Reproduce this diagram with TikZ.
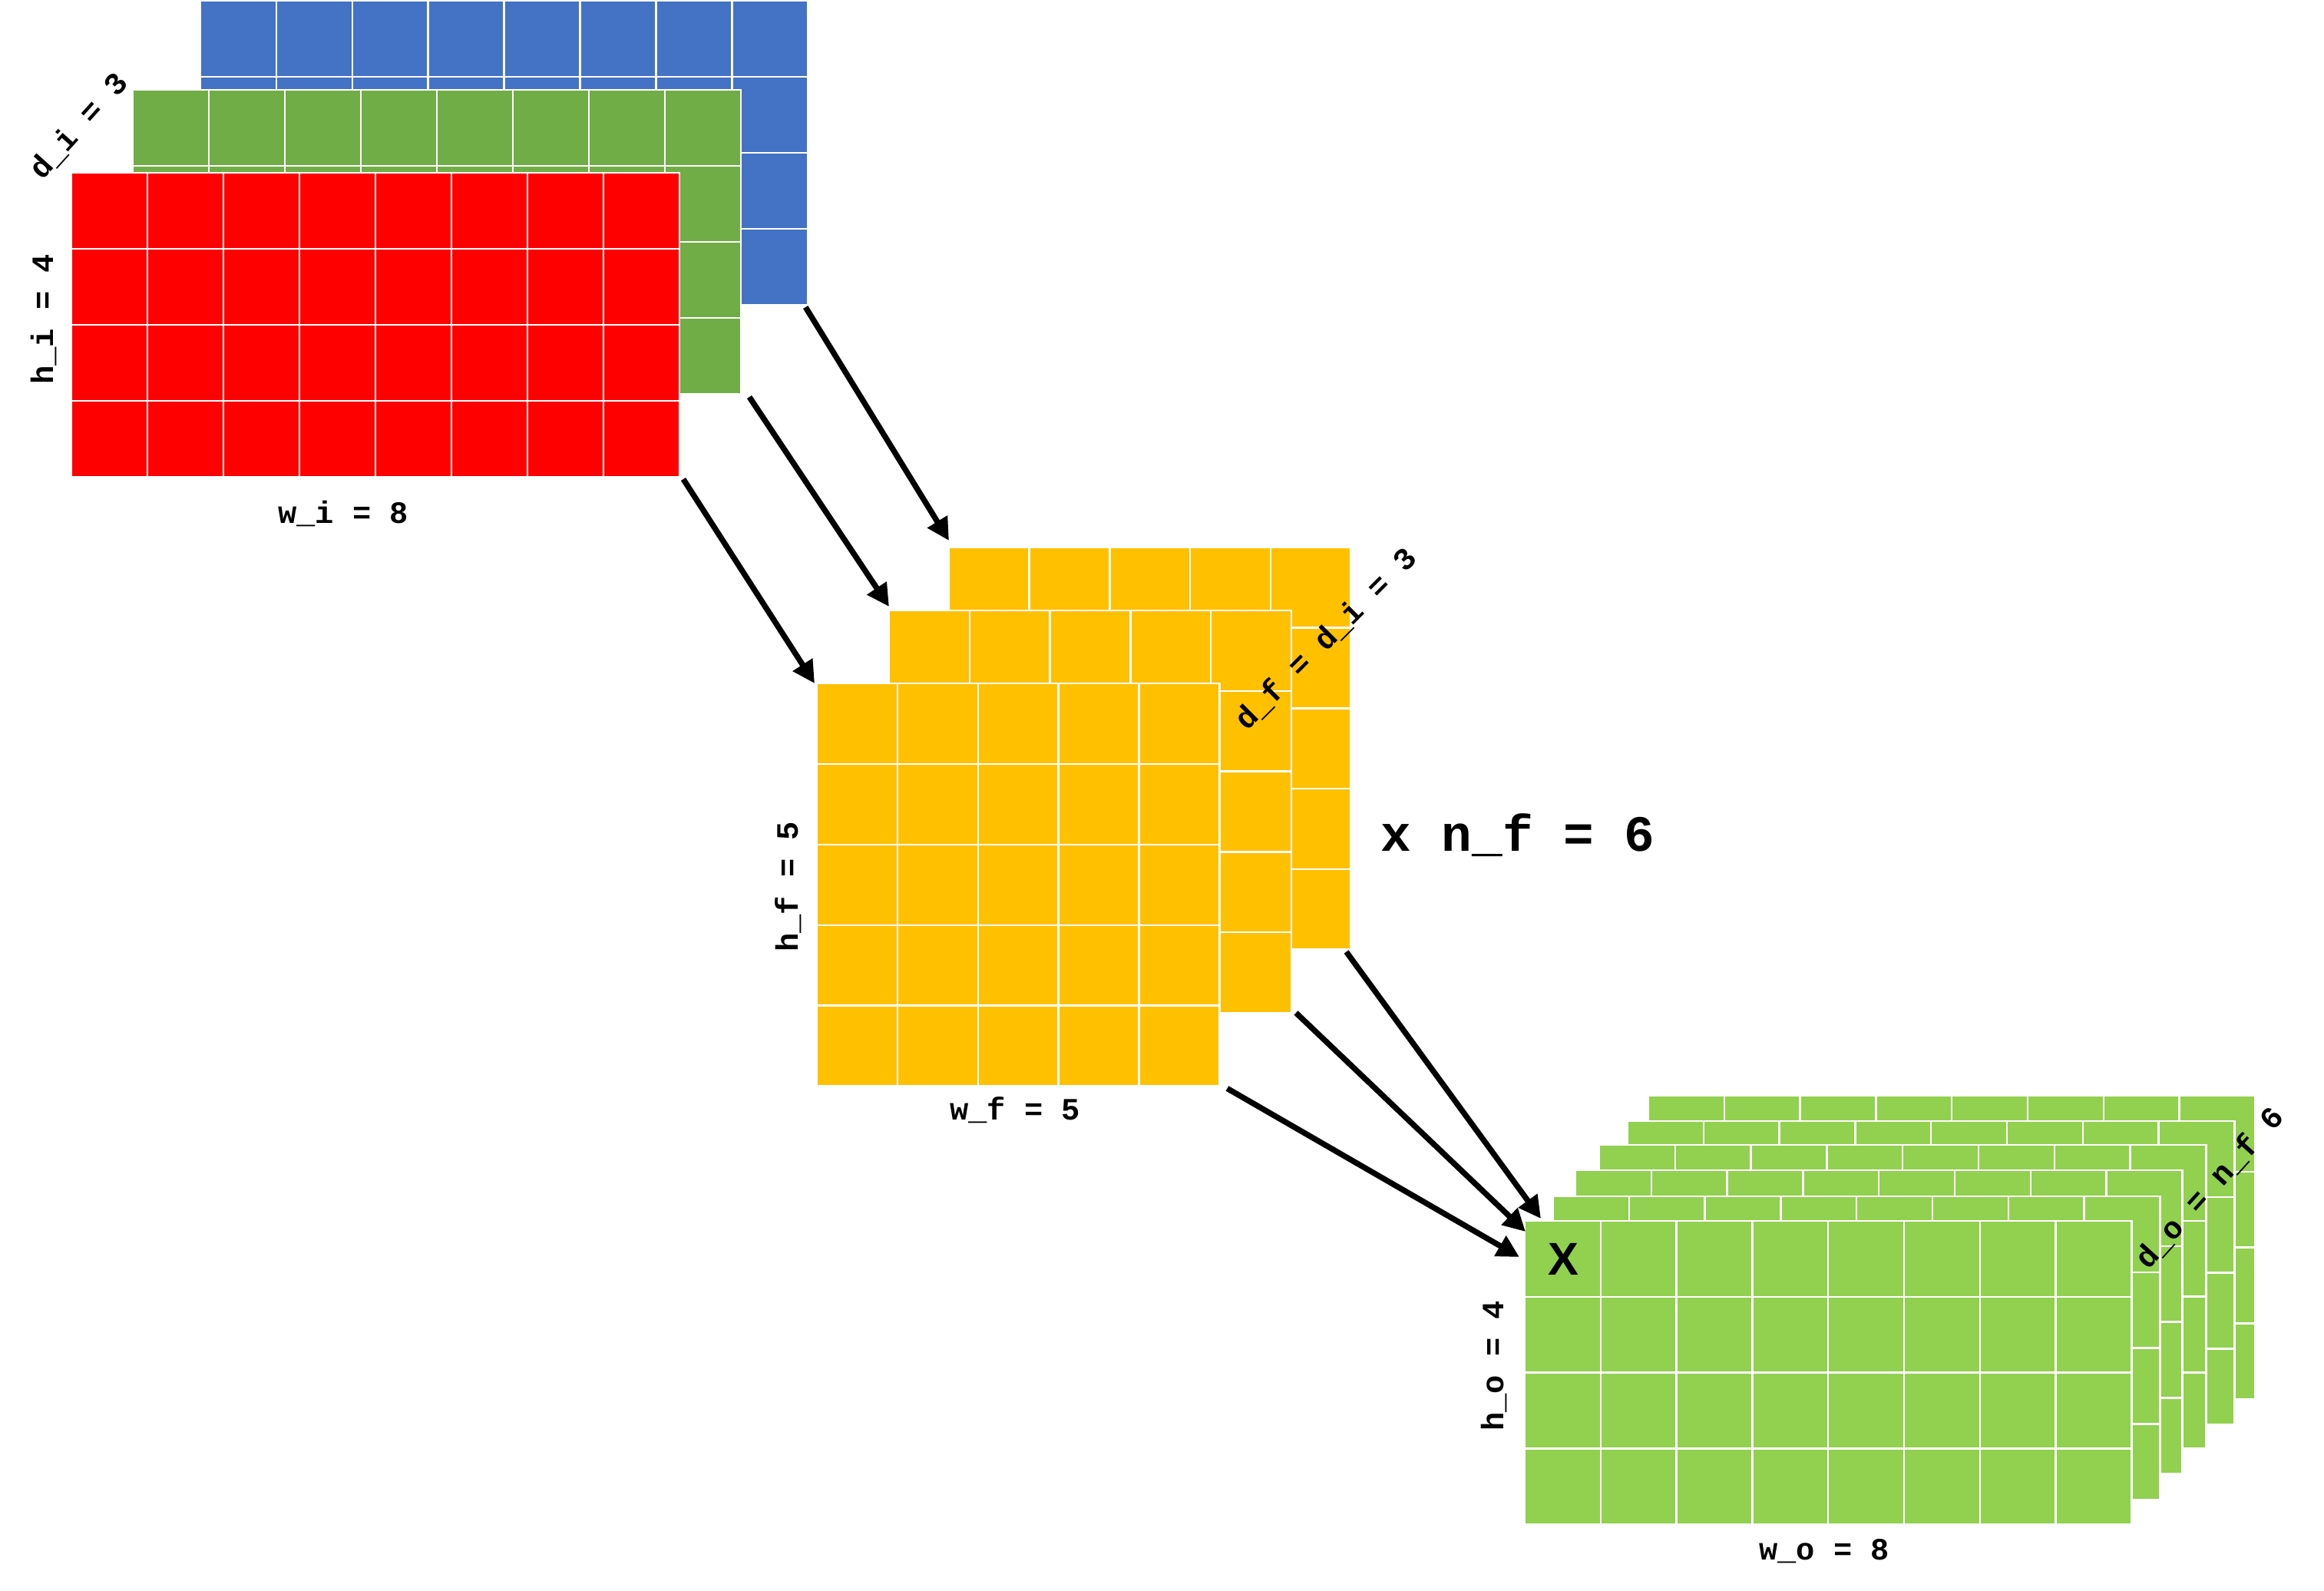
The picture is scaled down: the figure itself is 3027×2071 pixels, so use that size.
\documentclass[tikz,border=0pt]{standalone}
\usepackage{fontspec}
\setmainfont{Liberation Sans}
\newfontfamily\cour{Liberation Mono}
\usetikzlibrary{arrows.meta,calc}
\definecolor{cblue}{HTML}{4472C4}
\definecolor{cgreen}{HTML}{70AD47}
\definecolor{cred}{HTML}{FF0000}
\definecolor{cyellow}{HTML}{FFC000}
\definecolor{clgreen}{HTML}{92D050}
\newcommand\gridlayer[8]{% x y cols rows cw ch color name
  \foreach \i in {1,...,#3}{\foreach \j in {1,...,#4}{
    \filldraw[cellbox, fill=#7] ({#1+(\i-1)*#5},{#2+(\j-1)*#6}) rectangle ++(#5,#6);
  }}
  \coordinate (#8-nw) at (#1,#2);
  \coordinate (#8-se) at ({#1+#3*#5},{#2+#4*#6});
}
\begin{document}
\begin{tikzpicture}[x=0.01cm,y=-0.01cm,
  lbl/.style={font=\cour\bfseries\fontsize{11.5}{13}\selectfont, inner sep=0},
  arr/.style={line width=2.1pt, -{Triangle[length=0.29cm,width=0.29cm]}},
  cellbox/.style={draw=white, line width=0.7pt}]
\useasboundingbox (0,0) rectangle (3027,2071);

% input volume
\gridlayer{261}{1}{8}{4}{98.9}{99}{cblue}{blue}
\gridlayer{173}{117}{8}{4}{99}{99}{cgreen}{green}
\gridlayer{93}{225}{8}{4}{99}{99}{cred}{red}

% filters
\gridlayer{1236}{713}{5}{5}{104.7}{104.7}{cyellow}{yb}
\gridlayer{1158}{795}{5}{5}{104.8}{104.8}{cyellow}{ym}
\gridlayer{1064}{890}{5}{5}{104.9}{104.9}{cyellow}{yf}

% output volume
\gridlayer{2147}{1427}{8}{4}{98.8}{98.8}{clgreen}{o1}
\gridlayer{2120}{1460}{8}{4}{98.8}{98.8}{clgreen}{o2}
\gridlayer{2083}{1491}{8}{4}{98.8}{98.8}{clgreen}{o3}
\gridlayer{2052}{1524}{8}{4}{98.8}{98.8}{clgreen}{o4}
\gridlayer{2023}{1558}{8}{4}{98.8}{98.8}{clgreen}{o5}
\gridlayer{1986}{1590}{8}{4}{98.8}{98.8}{clgreen}{o6}

% labels
\node[lbl, rotate=48] (di) at (103,164) {d\_i = 3};
\node[lbl, rotate=90, anchor=base] (hi) at (69,416) {h\_i = 4};
\node[lbl, anchor=base] (wi) at (447,681) {w\_i = 8};
\node[lbl, rotate=90, anchor=base] (hf) at (1039,1155) {h\_f = 5};
\node[lbl, anchor=base] (wf) at (1322,1458) {w\_f = 5};
\node[lbl, rotate=45] (df) at (1727,832) {d\_f = d\_i = 3};
\node[font=\cour\bfseries\fontsize{18.8}{22}\selectfont, inner sep=0, anchor=base] (nf) at (1977,1108) {x n\_f = 6};
\node[lbl, rotate=90, anchor=base] (ho) at (1958,1779) {h\_o = 4};
\node[lbl, anchor=base] (wo) at (2376,2031) {w\_o = 8};
\node[lbl, rotate=48] (do) at (2878,1547) {d\_o = n\_f 6};
\node[font=\bfseries\fontsize{17}{20}\selectfont, inner sep=0] (X) at (2036,1640) {X};

% arrows: input -> filters
\draw[arr] ($(blue-se)+(-3,3)$) -- ($(yb-nw)+(0,-9)$);
\draw[arr] ($(green-se)+(11,4)$) -- ($(ym-nw)+(0,-5)$);
\draw[arr] ($(red-se)+(5,3)$) -- ($(yf-nw)+(-3,0)$);
% arrows: filters -> output
\draw[arr] ($(yb-se)+(-6,3)$) -- ($(o6-nw)+(21,-3)$);
\draw[arr] ($(ym-se)+(6,0)$) -- ($(o6-nw)+(1,14)$);
\draw[arr] ($(yf-se)+(10,3)$) -- ($(o6-nw)+(-7,47)$);
\end{tikzpicture}
\end{document}
